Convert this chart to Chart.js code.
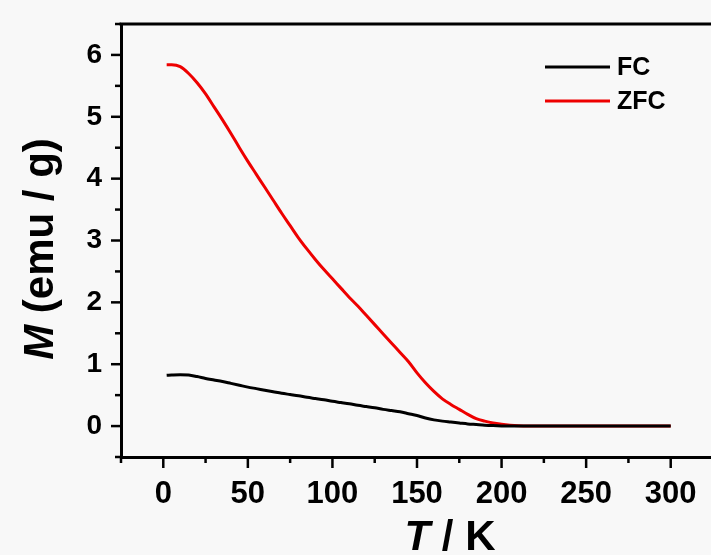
<!DOCTYPE html>
<html>
<head>
<meta charset="utf-8">
<script src="https://cdn.jsdelivr.net/npm/chart.js@4.4.1/dist/chart.umd.min.js"></script>
<style>
  html, body { margin: 0; padding: 0; overflow: hidden; background: #f8f8f8; }
  #wrap { width: 714px; height: 555px; position: relative; }
</style>
</head>
<body>
<div id="wrap"><canvas id="c"></canvas></div>
<script>
// ---- data ----
const temperatures = [2, 5, 10, 15, 20, 25, 30, 35, 40, 45, 50, 55, 60, 65, 70, 75, 80, 85, 90, 95,
  100, 105, 110, 115, 120, 125, 130, 135, 140, 145, 150, 155, 160, 165, 170, 175, 180, 185, 190, 195,
  200, 205, 210, 215, 220, 230, 240, 250, 260, 270, 280, 290, 300];
const fcValues = [0.82, 0.825, 0.83, 0.825, 0.80, 0.77, 0.745, 0.72, 0.69, 0.66, 0.63, 0.605, 0.58, 0.555, 0.53, 0.51, 0.49, 0.465, 0.445, 0.425,
  0.40, 0.38, 0.36, 0.335, 0.315, 0.295, 0.27, 0.25, 0.23, 0.20, 0.17, 0.13, 0.10, 0.08, 0.065, 0.05, 0.035, 0.025, 0.015, 0.008,
  0.003, 0, 0, 0, 0, 0, 0, 0, 0, 0, 0, 0, 0];
const zfcValues = [5.84, 5.84, 5.81, 5.70, 5.55, 5.37, 5.16, 4.95, 4.73, 4.50, 4.28, 4.07, 3.86, 3.65, 3.44, 3.24, 3.04, 2.86, 2.69, 2.53,
  2.38, 2.23, 2.08, 1.94, 1.79, 1.64, 1.49, 1.34, 1.19, 1.04, 0.86, 0.70, 0.56, 0.44, 0.35, 0.27, 0.19, 0.12, 0.08, 0.05,
  0.03, 0.015, 0.005, 0, 0, 0, 0, 0, 0, 0, 0, 0, 0];
const seriesLabels = ['FC', 'ZFC'];
const xTickLabels = ['0', '50', '100', '150', '200', '250', '300'];
const yTickLabels = ['0', '1', '2', '3', '4', '5', '6'];
const xTitleItalic = 'T', xTitleRest = ' / K';
const yTitleItalic = 'M', yTitleRest = ' (emu / g)';

const FONT = '"Liberation Sans", Arial, Helvetica, sans-serif';

function pts(xs, ys) { return xs.map((x, i) => ({ x: x, y: ys[i] })); }

const decor = {
  id: 'decor',
  beforeDraw(chart) {
    const ctx = chart.ctx;
    ctx.save();
    ctx.fillStyle = '#f8f8f8';
    ctx.fillRect(0, 0, chart.width, chart.height);
    ctx.restore();
  },
  afterDraw(chart) {
    const ctx = chart.ctx;
    const a = chart.chartArea;
    const xs = chart.scales.x, ys = chart.scales.y;
    ctx.save();
    ctx.strokeStyle = '#000';
    ctx.lineWidth = 3;
    // top and right frame
    ctx.beginPath();
    ctx.moveTo(a.left - 1.5, a.top);
    ctx.lineTo(a.right, a.top);
    ctx.lineTo(a.right, a.bottom);
    ctx.stroke();
    // ticks
    ctx.lineWidth = 2.5;
    xs.ticks.forEach(t => {
      const px = xs.getPixelForValue(t.value);
      const major = Math.abs(t.value % 50) < 1e-6;
      ctx.beginPath();
      ctx.moveTo(px, a.bottom);
      ctx.lineTo(px, a.bottom + (major ? 11 : 6));
      ctx.stroke();
    });
    ys.ticks.forEach(t => {
      const py = ys.getPixelForValue(t.value);
      const major = Math.abs(t.value % 1) < 1e-6;
      ctx.beginPath();
      ctx.moveTo(a.left, py);
      ctx.lineTo(a.left - (major ? 10 : 6), py);
      ctx.stroke();
    });
    // legend
    ctx.textBaseline = 'middle';
    ctx.font = 'bold 25px ' + FONT;
    chart.data.datasets.forEach((ds, i) => {
      const y = 67 + i * 34;
      ctx.strokeStyle = ds.borderColor;
      ctx.lineWidth = 3;
      ctx.beginPath();
      ctx.moveTo(545, y);
      ctx.lineTo(610, y);
      ctx.stroke();
      ctx.fillStyle = '#000';
      ctx.fillText(ds.label, 617, y + 1);
    });
    // axis titles
    ctx.fillStyle = '#000';
    ctx.textBaseline = 'alphabetic';
    const fi = 'italic bold 42px ' + FONT, fb = 'bold 42px ' + FONT;
    // x title
    ctx.font = fi; const w1 = ctx.measureText(xTitleItalic).width;
    ctx.font = fb; const w2 = ctx.measureText(xTitleRest).width;
    let sx = 450 - (w1 + w2) / 2;
    ctx.font = fi; ctx.fillText(xTitleItalic, sx, 550);
    ctx.font = fb; ctx.fillText(xTitleRest, sx + w1, 550);
    // y title
    ctx.translate(53, 249);
    ctx.rotate(-Math.PI / 2);
    ctx.font = fi; const v1 = ctx.measureText(yTitleItalic).width;
    ctx.font = fb; const v2 = ctx.measureText(yTitleRest).width;
    sx = -(v1 + v2) / 2;
    ctx.font = fi; ctx.fillText(yTitleItalic, sx, 0);
    ctx.font = fb; ctx.fillText(yTitleRest, sx + v1, 0);
    ctx.restore();
  }
};

new Chart(document.getElementById('c'), {
  type: 'line',
  data: {
    datasets: [
      { label: seriesLabels[0], data: pts(temperatures, fcValues), borderColor: '#000000', borderWidth: 3, pointRadius: 0, cubicInterpolationMode: 'monotone', fill: false },
      { label: seriesLabels[1], data: pts(temperatures, zfcValues), borderColor: '#ee0000', borderWidth: 3, pointRadius: 0, cubicInterpolationMode: 'monotone', fill: false }
    ]
  },
  options: {
    responsive: true,
    maintainAspectRatio: false,
    animation: false,
    layout: { padding: { top: 24, right: 1, left: 0, bottom: 0 } },
    plugins: { legend: { display: false }, tooltip: { enabled: false } },
    scales: {
      x: {
        type: 'linear', min: -25, max: 325,
        grid: { display: false, drawTicks: false },
        border: { display: true, width: 3, color: '#000' },
        ticks: {
          stepSize: 25, padding: 19, color: '#000',
          font: { family: FONT, size: 31, weight: 'bold' },
          maxRotation: 0, autoSkip: false,
          callback: v => { const s = String(Math.round(v)); return (Math.abs(v % 50) < 1e-6 && xTickLabels.includes(s)) ? s : ''; }
        },
        afterFit: s => { s.height = 98; s.paddingLeft = 0; s.paddingRight = 0; }
      },
      y: {
        type: 'linear', min: -0.5, max: 6.5,
        grid: { display: false, drawTicks: false },
        border: { display: true, width: 3, color: '#000' },
        ticks: {
          stepSize: 0.5, padding: 19, color: '#000',
          font: { family: FONT, size: 28, weight: 'bold' },
          autoSkip: false,
          callback: v => { const s = String(Math.round(v)); return (Math.abs(v % 1) < 1e-6 && yTickLabels.includes(s)) ? s : ''; }
        },
        afterFit: s => { s.width = 121; s.paddingTop = 0; s.paddingBottom = 0; }
      }
    }
  },
  plugins: [decor]
});
</script>
</body>
</html>
